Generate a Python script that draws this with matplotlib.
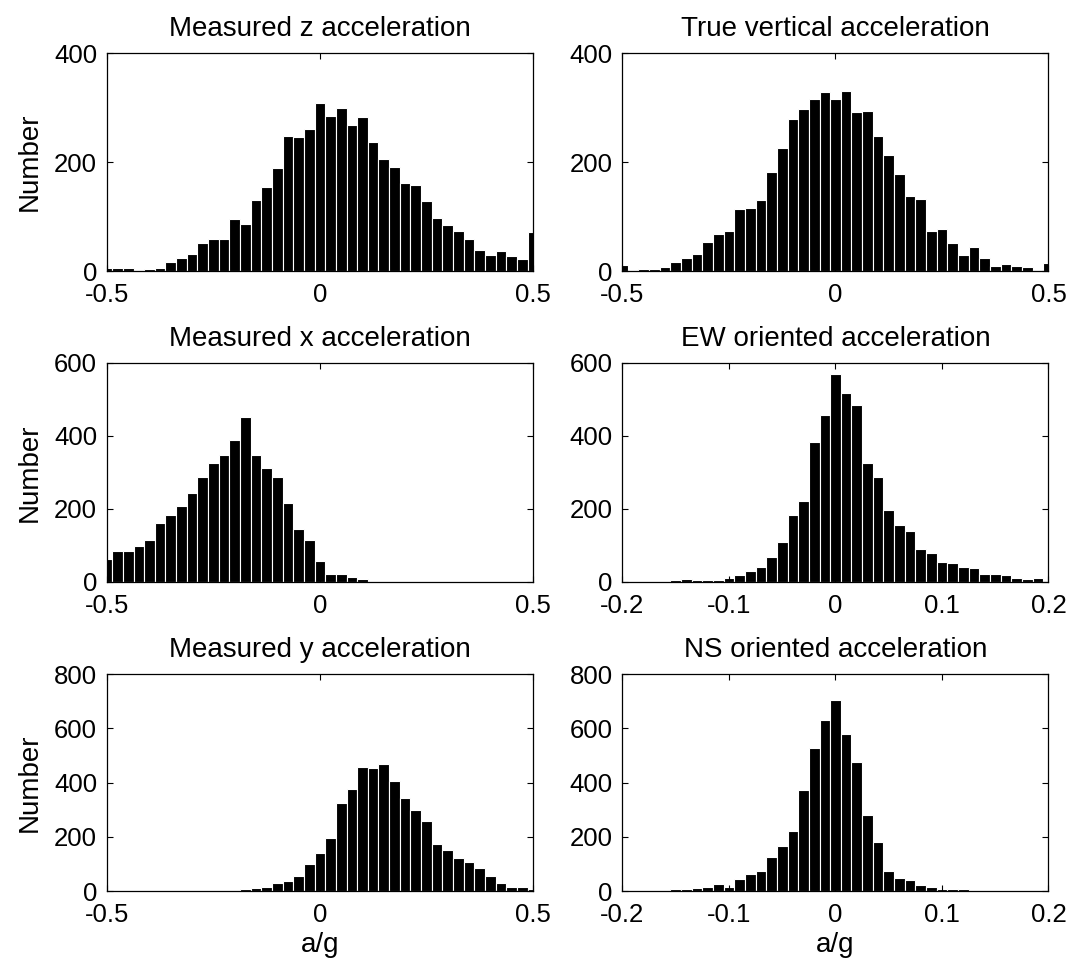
import matplotlib
matplotlib.use("Agg")
import matplotlib.pyplot as plt
import numpy as np

plt.rcParams["font.family"] = ["Liberation Sans", "DejaVu Sans"]
plt.rcParams["axes.unicode_minus"] = False

# bin centres (MATLAB hist style, 41 centres incl. both ends)
centers_wide = np.round(np.linspace(-0.5, 0.5, 41), 4)
centers_narrow = np.round(np.linspace(-0.2, 0.2, 41), 4)

meas_z = [6, 5, 5, 2, 3, 5, 17, 24, 31, 51, 58, 58, 96, 87, 131, 155, 189, 248, 246, 260,
          309, 284, 299, 268, 282, 237, 206, 191, 162, 158, 129, 98, 84, 74, 58, 38, 29, 36, 27, 22,
          72]
true_vert = [11, 2, 4, 4, 7, 17, 24, 31, 54, 68, 73, 113, 116, 130, 181, 226, 279, 298, 316, 328,
             316, 330, 292, 294, 248, 212, 178, 138, 132, 73, 77, 51, 29, 44, 24, 9, 12, 10, 7, 0,
             14]
meas_x = [63, 84, 84, 98, 116, 162, 184, 209, 244, 287, 326, 348, 390, 452, 348, 311, 287, 216, 145, 116,
          58, 23, 23, 13, 8, 0, 0, 0, 0, 0, 0, 0, 0, 0, 0, 0, 0, 0, 0, 0,
          0]
ew = [0, 0, 0, 0, 0, 5, 8, 5, 5, 5, 12, 19, 30, 41, 69, 109, 184, 223, 384, 458,
      569, 519, 484, 327, 288, 198, 155, 141, 90, 80, 55, 51, 41, 37, 23, 23, 19, 12, 8, 12,
      0]
meas_y = [0, 0, 0, 0, 0, 0, 0, 0, 0, 0, 0, 0, 0, 6, 11, 16, 31, 36, 54, 98,
          142, 194, 325, 378, 459, 454, 469, 406, 343, 300, 257, 175, 151, 122, 107, 84, 54, 31, 16, 16,
          6]
ns = [0, 0, 0, 0, 0, 6, 6, 11, 16, 26, 16, 46, 64, 74, 127, 166, 223, 373, 526, 632,
      705, 580, 474, 281, 180, 74, 49, 39, 21, 16, 6, 6, 6, 0, 0, 0, 0, 0, 0, 0,
      0]

titles = ["Measured z acceleration", "True vertical acceleration",
          "Measured x acceleration", "EW oriented acceleration",
          "Measured y acceleration", "NS oriented acceleration"]
series = [meas_z, true_vert, meas_x, ew, meas_y, ns]
centers = [centers_wide, centers_wide, centers_wide, centers_narrow, centers_wide, centers_narrow]
xticks_wide = [-0.5, 0, 0.5]
xticks_narrow = [-0.2, -0.1, 0, 0.1, 0.2]
yticks_rows = [[0, 200, 400], [0, 200, 400, 600], [0, 200, 400, 600, 800]]

FS = 18.5
TFS = 20
fig = plt.figure(figsize=(10.69, 9.61), dpi=100)
lefts = [0.100, 0.5823]
bottoms = [0.718, 0.3944, 0.0728]
heights = [0.2268, 0.2279, 0.2258]
w = 0.3985

for i in range(6):
    r, c = divmod(i, 2)
    ax = fig.add_axes([lefts[c], bottoms[r], w, heights[r]])
    x = centers[i]
    step = x[1] - x[0]
    ax.bar(x, series[i], width=step, color="black", edgecolor="white", linewidth=0.8)
    lo, hi = x[0], x[-1]
    ax.set_xlim(lo, hi)
    ax.set_ylim(yticks_rows[r][0], yticks_rows[r][-1])
    ax.set_yticks(yticks_rows[r])
    ticks = xticks_wide if lo == -0.5 else xticks_narrow
    ax.set_xticks(ticks)
    ax.set_xticklabels([f"{t:g}" for t in ticks])
    ax.tick_params(direction="in", top=True, right=True, length=4, width=0.8,
                   labelsize=FS)
    ax.tick_params(axis="x", pad=8.5)
    ax.tick_params(axis="y", pad=7)
    for s in ax.spines.values():
        s.set_linewidth(0.9)
    ax.set_title(titles[i], fontsize=TFS, pad=12)
    if c == 0:
        ax.set_ylabel("Number", fontsize=TFS, labelpad=8)
    if r == 2:
        ax.set_xlabel("a/g", fontsize=TFS, labelpad=4)

fig.savefig("out.png", dpi=100)
